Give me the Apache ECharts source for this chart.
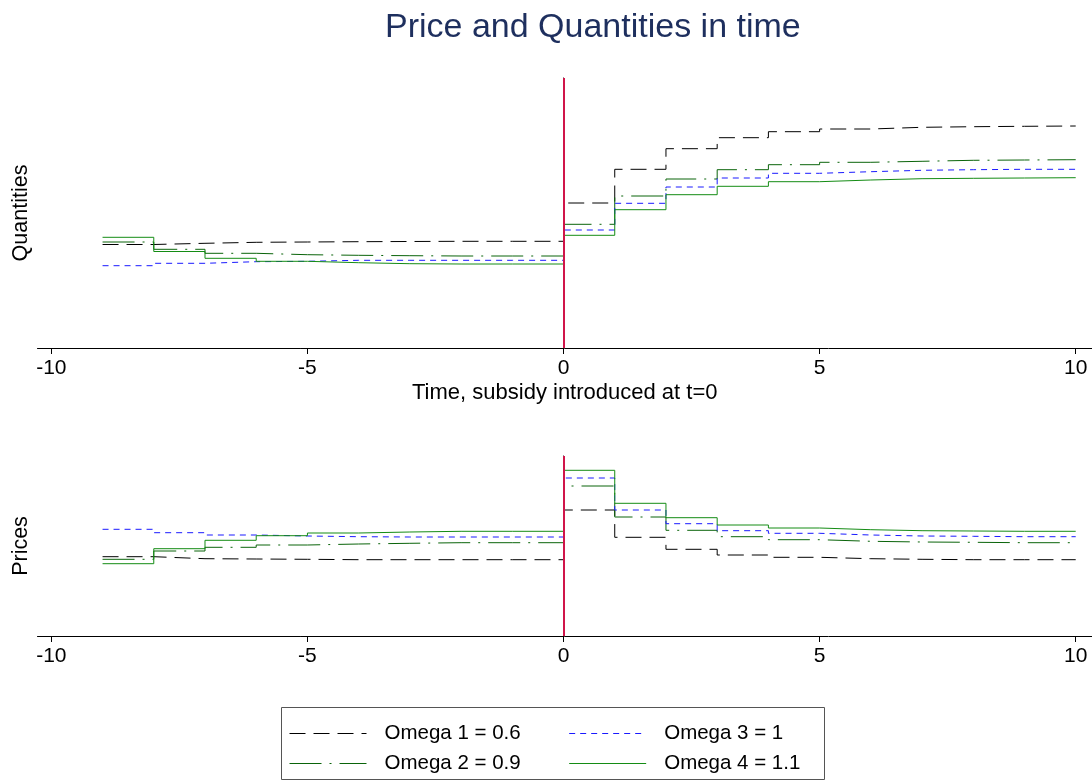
<!DOCTYPE html>
<html>
<head>
<meta charset="utf-8">
<script src="https://cdn.jsdelivr.net/npm/echarts@6/dist/echarts.min.js"></script>
<style>
html,body{margin:0;padding:0;background:#fff;}
#chart{width:1092px;height:780px;}
</style>
</head>
<body>
<div id="chart"></div>
<script>
// Time periods (subsidy introduced at t=0)
const periods = [-9,-8,-7,-6,-5,-4,-3,-2,-1,0,1,2,3,4,5,6,7,8,9,10];
const xTicks = [-10,-5,0,5,10];
const seriesNames = ['Omega 1 = 0.6','Omega 2 = 0.9','Omega 3 = 1','Omega 4 = 1.1'];

// Quantities (index units, no scale shown)
const qOmega1 = [103.5,104.7,105.7,106,106.3,106.5,106.7,106.7,106.7,145,178.7,199.3,210.3,216.3,219,220.7,221.3,221.7,222,222];
const qOmega2 = [106,98.7,94.7,93.3,92.7,92.3,92,92,92,123.7,152,169,178.3,183.3,185.7,186.7,187.7,188,188.3,188.5];
const qOmega3 = [82.3,84.7,86.3,86.7,87.7,87.7,87.7,87.7,87.7,118,144.7,161,170,174.7,176.3,177.7,178.3,178.7,178.7,178.8];
const qOmega4 = [110.7,96.5,89.7,86.7,85.3,84.3,84,84,84,112.7,138.3,153.3,161.7,166.3,168,169.3,169.7,170,170.3,170.4];

// Prices (index units, no scale shown)
const pOmega1 = [79.3,77.3,77,76.7,76.3,76.3,76.3,76.3,76.3,126,98.7,86.7,81,78.7,77.3,76.7,76.3,76.3,76.3,76.3];
const pOmega2 = [76.7,85,88.7,91,92,92.7,93.3,93.3,93.3,150,119,105.7,99.3,96.3,94.7,94,93.7,93.3,93.3,93.3];
const pOmega3 = [106.7,103.3,101,100,99.3,99,99,99,99,158,126,112.3,105.3,102.7,101,100,99.7,99.3,99.3,99.3];
const pOmega4 = [72.3,87.3,95.7,100.3,103,104,104.7,104.7,104.7,165.7,132.7,118.3,111,108,106.3,105.3,105,104.7,104.7,104.7];

const FONT = "'Liberation Sans', Arial, Helvetica, sans-serif";
const styles = [
  {color:'#000000', type:[16,8], width:1},
  {color:'#0a640a', type:[32,8,2,8], width:1},
  {color:'#1a1aff', type:[6,5], width:1},
  {color:'#148c14', type:'solid', width:1}
];

function pairs(vals){ return periods.map((t,i)=>[t, vals[i]]); }

function makeSeries(arrs, gi){
  return arrs.map((a,i)=>{
    const s = {
      name: seriesNames[i], type:'line', step:'end',
      xAxisIndex: gi, yAxisIndex: gi,
      data: pairs(a), symbol:'none', showSymbol:false,
      lineStyle: Object.assign({}, styles[i]),
      itemStyle: {color: styles[i].color},
      emphasis: {disabled:true},
      z: 3
    };
    if(i===0){
      s.markLine = {
        silent:true, symbol:['none','none'], label:{show:false},
        lineStyle:{color:'#d0154a', width:2, type:'solid'},
        data:[{xAxis:0}], z:5
      };
    }
    return s;
  });
}

const xAxisBase = (gi, withName) => ({
  type:'value', gridIndex:gi, min:-10.27, max:10.318,
  axisLine:{show:true, onZero:false, lineStyle:{color:'#000', width:1}},
  axisTick:{show:true, length:6, customValues:xTicks, lineStyle:{color:'#000'}},
  axisLabel:{show:true, customValues:xTicks, margin:10, color:'#000', fontSize:21, fontFamily:FONT},
  splitLine:{show:false},
  name: withName ? 'Time, subsidy introduced at t=0' : '',
  nameLocation:'middle', nameGap:34,
  nameTextStyle:{color:'#000', fontSize:22, fontFamily:FONT}
});

const yAxisBase = (gi, name, max) => ({
  type:'value', gridIndex:gi, min:0, max:max,
  axisLine:{show:true, lineStyle:{color:'#000', width:1}},
  axisTick:{show:false}, axisLabel:{show:false}, splitLine:{show:false},
  name:name, nameLocation:'middle', nameGap:5,
  nameTextStyle:{color:'#000', fontSize:21.5, fontFamily:FONT}
});

const legendCommon = {
  orient:'horizontal', itemWidth:77, itemHeight:13, itemGap:48, padding:0,
  itemStyle:{color:'rgba(0,0,0,0)', borderWidth:0, opacity:0},
  textStyle:{color:'#000', fontSize:20.5, fontFamily:FONT, padding:[0,0,0,13]},
  selectedMode:false
};
const legendItem = i => ({
  name: seriesNames[i],
  lineStyle: {color: styles[i].color, type: styles[i].type, width: 1, opacity: 1}
});

const chart = echarts.init(document.getElementById('chart'), null, {renderer:'canvas'});
chart.setOption({
  animation:false,
  backgroundColor:'#ffffff',
  title:{
    text:'Price and Quantities in time', left:380, top:6,
    textStyle:{color:'#1e2f5e', fontSize:34, fontWeight:'normal', fontFamily:FONT}
  },
  grid:[
    {left:37.5, right:0, top:78, height:270},
    {left:37.5, right:0, top:456, height:180}
  ],
  xAxis:[xAxisBase(0,true), xAxisBase(1,false)],
  yAxis:[yAxisBase(0,'Quantities',270), yAxisBase(1,'Prices',180)],
  graphic:[{
    type:'rect', shape:{x:281.5, y:707.5, width:543, height:72},
    style:{fill:'#fff', stroke:'#555', lineWidth:1}, z:-1, silent:true
  }],
  legend:[
    Object.assign({left:289, top:723, data:[legendItem(0), legendItem(2)]}, legendCommon),
    Object.assign({left:289, top:753, data:[legendItem(1), legendItem(3)]}, legendCommon)
  ],
  series:[].concat(
    makeSeries([qOmega1,qOmega2,qOmega3,qOmega4],0),
    makeSeries([pOmega1,pOmega2,pOmega3,pOmega4],1)
  )
});
</script>
</body>
</html>
